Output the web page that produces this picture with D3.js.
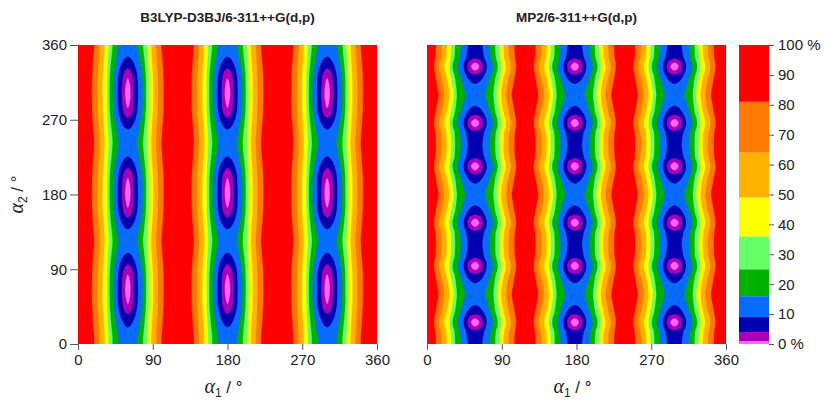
<!DOCTYPE html>
<html>
<head>
<meta charset="utf-8">
<script src="https://cdn.jsdelivr.net/npm/d3@7"></script>
<style>
  body { margin: 0; background: #fff; }
  text { font-family: "Liberation Sans", Arial, sans-serif; fill: #222; }
</style>
</head>
<body>
<div id="chart"></div>
<script>
// contour levels (percent) and the colour of the band above each one
const levels = [0, 1, 4, 9, 16, 25, 36, 49, 64, 81];
const levelColors = ["#ff66ff", "#a800b8", "#0000b0", "#0a6cff", "#00b300",
                     "#66ff66", "#ffff00", "#ffb300", "#ff7800", "#ff0000"];
const angleTicks = [0, 90, 180, 270, 360];
const colorbarTicks = [0, 10, 20, 30, 40, 50, 60, 70, 80, 90, 100];

// B3LYP-D3BJ panel: column centres along alpha1, profiles across a column
// (offset from the column centre in degrees -> percent) and values along the column centre
const b3lypTitle = "B3LYP-D3BJ/6-311++G(d,p)";
const b3lypColumns = [60, 180, 300];
const b3lypWellOffsets = [0, 3.4, 7.4, 12.4, 18.1, 22.1, 25.3, 30.6, 36.6, 43.4, 52, 60];
const b3lypWellValues = [0, 1, 4, 9, 16, 25, 36, 49, 64, 81, 92, 95];
const b3lypNeckOffsets = [0, 11.3, 18.5, 23.3, 28.2, 34.2, 40.6, 50, 60];
const b3lypNeckValues = [12.5, 16, 25, 36, 49, 64, 81, 92, 95];
const b3lypCenterA2 = [0, 4, 20, 36, 48, 66, 84, 96, 110, 124, 138, 152, 164, 182,
                       200, 212, 226, 242, 258, 272, 284, 302, 320, 332, 346, 360];
const b3lypCenterValues = [12.4, 12.5, 9, 4, 1, 0, 1, 4, 9, 12.5, 9, 4, 1, 0,
                           1, 4, 9, 12.5, 9, 4, 1, 0, 1, 4, 9, 12.4];

// MP2 panel
const mp2Title = "MP2/6-311++G(d,p)";
const mp2Columns = [58, 178, 298];
const mp2WellOffsets = [0, 5, 9.5, 14, 21.5, 27.4, 31.4, 37, 43.4, 49.5, 56, 60];
const mp2WellValues = [0, 1, 4, 9, 16, 25, 36, 49, 64, 81, 90, 92];
const mp2NeckOffsets = [0, 12, 22.1, 26.1, 31.4, 37.4, 44.2, 52, 60];
const mp2NeckValues = [12.5, 16, 25, 36, 49, 64, 81, 91, 94];
const mp2CenterA2 = [0, 8, 16, 21, 26, 31, 36, 47, 60, 73, 84, 89, 94, 99, 104, 112,
                     120, 128, 136, 141, 146, 151, 156, 167, 180, 193, 204, 209, 214, 219, 224, 232,
                     240, 248, 256, 261, 266, 271, 276, 287, 300, 313, 324, 329, 334, 339, 344, 352, 360];
const mp2CenterValues = [6.2, 5.6, 4, 1, 0, 1, 4, 9, 12.5, 9, 4, 1, 0, 1, 4, 5.6,
                         6.2, 5.6, 4, 1, 0, 1, 4, 9, 12.5, 9, 4, 1, 0, 1, 4, 5.6,
                         6.2, 5.6, 4, 1, 0, 1, 4, 9, 12.5, 9, 4, 1, 0, 1, 4, 5.6, 6.2];

// monotone cubic through the read points
function monotone(xs, ys) {
    let n = xs.length, d = [], m = [];
    for (let i = 0; i < n - 1; i++) d.push((ys[i + 1] - ys[i]) / (xs[i + 1] - xs[i]));
    m[0] = d[0];
    m[n - 1] = d[n - 2];
    for (let i = 1; i < n - 1; i++) {
        m[i] = d[i - 1] * d[i] <= 0 ? 0 : 2 / (1 / d[i - 1] + 1 / d[i]);
    }
    return x => {
        let i = Math.max(0, Math.min(n - 2, d3.bisectRight(xs, x) - 1));
        let h = xs[i + 1] - xs[i], t = (x - xs[i]) / h;
        let t2 = t * t, t3 = t2 * t;
        return (2 * t3 - 3 * t2 + 1) * ys[i] + (t3 - 2 * t2 + t) * h * m[i]
            + (-2 * t3 + 3 * t2) * ys[i + 1] + (t3 - t2) * h * m[i + 1];
    };
}

// mirror a profile so it is smooth across the column centre
function mirrored(offs, vals) {
    let xs = offs.slice(1).reverse().map(o => -o).concat(offs);
    let ys = vals.slice(1).reverse().concat(vals);
    return monotone(xs, ys);
}

// wrap the centre line so it is smooth across 0/360
function wrapped(a2, vals) {
    let n = a2.length;
    let xs = a2.slice(n - 4, n - 1).map(a => a - 360).concat(a2, a2.slice(1, 4).map(a => a + 360));
    let ys = vals.slice(n - 4, n - 1).concat(vals, vals.slice(1, 4));
    return monotone(xs, ys);
}

const step = 0.5;
const gridN = Math.round(360 / step) + 1;

function buildGrid(p) {
    let well = mirrored(p.wellOffsets, p.wellValues);
    let neck = mirrored(p.neckOffsets, p.neckValues);
    let center = wrapped(p.centerA2, p.centerValues);
    let neckCenter = p.neckValues[0];

    let wCol = [], nCol = [];
    for (let i = 0; i < gridN; i++) {
        let a1 = i * step;
        let off = d3.min(p.columns, c => Math.min(Math.abs(a1 - c), Math.abs(a1 - c + 360), Math.abs(a1 - c - 360)));
        wCol.push(well(off));
        nCol.push(neck(off));
    }
    let values = new Float64Array(gridN * gridN);
    for (let j = 0; j < gridN; j++) {
        let w = Math.max(0, Math.min(1, center(j * step) / neckCenter));
        for (let i = 0; i < gridN; i++) {
            values[j * gridN + i] = (1 - w) * wCol[i] + w * nCol[i];
        }
    }
    return values;
}

const panels = [
    {title: b3lypTitle, left: 78, columns: b3lypColumns, wellOffsets: b3lypWellOffsets, wellValues: b3lypWellValues,
     neckOffsets: b3lypNeckOffsets, neckValues: b3lypNeckValues, centerA2: b3lypCenterA2, centerValues: b3lypCenterValues, yAxis: true},
    {title: mp2Title, left: 427, columns: mp2Columns, wellOffsets: mp2WellOffsets, wellValues: mp2WellValues,
     neckOffsets: mp2NeckOffsets, neckValues: mp2NeckValues, centerA2: mp2CenterA2, centerValues: mp2CenterValues, yAxis: false}
];

const plotW = 299, plotTop = 45, plotH = 299;

const svg = d3.select("#chart").append("svg")
    .attr("width", 828)
    .attr("height", 403);

panels.forEach((p, k) => {
    let x = d3.scaleLinear().domain([0, 360]).range([p.left, p.left + plotW]);
    let y = d3.scaleLinear().domain([0, 360]).range([plotTop + plotH, plotTop]);

    svg.append("clipPath").attr("id", "clip" + k)
        .append("rect")
        .attr("x", p.left).attr("y", plotTop)
        .attr("width", plotW).attr("height", plotH);

    let contours = d3.contours().size([gridN, gridN]).thresholds(levels)(buildGrid(p));
    let path = d3.geoPath(d3.geoTransform({
        point: function(gx, gy) {
            this.stream.point(x((gx - 0.5) * step), y((gy - 0.5) * step));
        }
    }));

    let g = svg.append("g").attr("clip-path", "url(#clip" + k + ")");
    g.append("rect")
        .attr("x", p.left).attr("y", plotTop)
        .attr("width", plotW).attr("height", plotH)
        .attr("fill", levelColors[0]);
    g.selectAll("path")
        .data(contours)
        .join("path")
        .attr("d", path)
        .attr("fill", (d, i) => levelColors[i])
        .attr("stroke", (d, i) => levelColors[i])
        .attr("stroke-width", 0.3);

    // title
    svg.append("text")
        .attr("x", p.left + plotW / 2)
        .attr("y", 22)
        .attr("text-anchor", "middle")
        .attr("font-weight", "bold")
        .attr("font-size", 13.5)
        .text(p.title);

    // x axis
    let xAxis = svg.append("g")
        .attr("transform", "translate(0," + (plotTop + plotH) + ")")
        .call(d3.axisBottom(x).tickValues(angleTicks).tickSize(6).tickPadding(4));
    xAxis.select(".domain").remove();
    xAxis.selectAll("line").attr("stroke", "#555");
    xAxis.selectAll("text").attr("font-size", 15).attr("font-family", null).attr("fill", "#222");

    let xt = svg.append("text")
        .attr("x", p.left + plotW / 2 - 4)
        .attr("y", 393)
        .attr("text-anchor", "middle")
        .attr("font-size", 17);
    xt.append("tspan").attr("font-family", "Liberation Serif").attr("font-style", "italic").attr("font-size", 20).text("α");
    xt.append("tspan").attr("font-size", 12).attr("dy", 4).text("1");
    xt.append("tspan").attr("dy", -4).text(" / °");

    if (p.yAxis) {
        let yAxis = svg.append("g")
            .attr("transform", "translate(" + p.left + ",0)")
            .call(d3.axisLeft(y).tickValues(angleTicks).tickSize(8).tickPadding(3));
        yAxis.select(".domain").remove();
        yAxis.selectAll("line").attr("stroke", "#555");
        yAxis.selectAll("text").attr("font-size", 15).attr("font-family", null).attr("fill", "#222");

        let yt = svg.append("text")
            .attr("transform", "translate(23," + (plotTop + plotH / 2) + ") rotate(-90)")
            .attr("text-anchor", "middle")
            .attr("font-size", 17);
        yt.append("tspan").attr("font-family", "Liberation Serif").attr("font-style", "italic").attr("font-size", 20).text("α");
        yt.append("tspan").attr("font-size", 12).attr("dy", 4).text("2");
        yt.append("tspan").attr("dy", -4).text(" / °");
    }
});

// colour bar
const cb = d3.scaleLinear().domain([0, 100]).range([plotTop + plotH, plotTop]);
const cbLeft = 739, cbWidth = 30;
const bandTops = levels.slice(1).concat([100]);

svg.append("g").selectAll("rect")
    .data(levels)
    .join("rect")
    .attr("x", cbLeft)
    .attr("y", (d, i) => cb(bandTops[i]))
    .attr("width", cbWidth)
    .attr("height", (d, i) => cb(d) - cb(bandTops[i]))
    .attr("fill", (d, i) => levelColors[i]);

const cbAxis = svg.append("g")
    .attr("transform", "translate(" + (cbLeft + cbWidth) + ",0)")
    .call(d3.axisRight(cb).tickValues(colorbarTicks).tickSize(5).tickPadding(4)
        .tickFormat(d => (d === 0 || d === 100) ? d + " %" : d));
cbAxis.select(".domain").remove();
cbAxis.selectAll("line").attr("stroke", "#555");
cbAxis.selectAll("text").attr("font-size", 15).attr("font-family", null).attr("fill", "#222");
</script>
</body>
</html>
